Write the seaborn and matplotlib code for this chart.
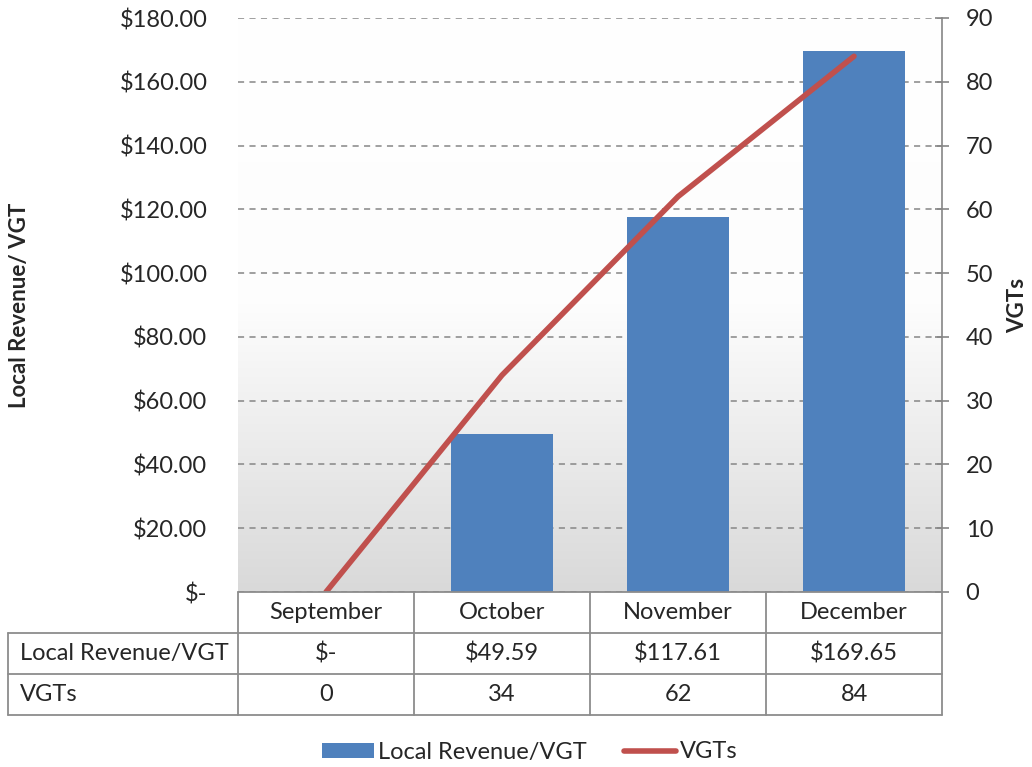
import numpy as np
import pandas as pd
import matplotlib
matplotlib.use("Agg")
import matplotlib.pyplot as plt
from matplotlib.lines import Line2D
from matplotlib.patches import Patch
from matplotlib.colors import LinearSegmentedColormap
import seaborn as sns

# Données
months = ['September', 'October', 'November', 'December']
revenue_per_vgt = [0.0, 49.59, 117.61, 169.65]
vgts = [0, 34, 62, 84]
rev_ticks = [0, 20, 40, 60, 80, 100, 120, 140, 160, 180]
vgt_ticks = [0, 10, 20, 30, 40, 50, 60, 70, 80, 90]

BLUE = '#4F81BD'
RED = '#C0504D'
GRID = '#868686'

sns.set_theme(style='white')
plt.rcParams['font.family'] = ['Lato', 'DejaVu Sans']
FS = 17

W, H = 1032, 767
fig = plt.figure(figsize=(W / 100, H / 100), dpi=100)

def fx(px):
    return px / W

def fy(py):
    return 1 - py / H

left, right, top, bottom = 238, 942, 18, 592
ax = fig.add_axes([fx(left), fy(bottom), fx(right - left), (bottom - top) / H])

df = pd.DataFrame({'Month': months, 'Revenue': revenue_per_vgt, 'VGTs': vgts,
                   'pos': np.arange(len(months))})

# fond dégradé (blanc en haut, gris en bas)
grad = LinearSegmentedColormap.from_list('g', ['#FFFFFF', '#FDFDFD', '#D9D9D9'])
ax.imshow(np.linspace(0, 1, 256).reshape(-1, 1), cmap=grad, aspect='auto',
          extent=[0, 1, 0, 1], transform=ax.transAxes, zorder=0)

sns.barplot(data=df, x='Month', y='Revenue', color=BLUE, saturation=1,
            width=0.575, linewidth=0, ax=ax, zorder=3)
ax.set_xlim(-0.5, 3.5)
ax.set_ylim(0, 180)
ax.set_yticks(rev_ticks)
ax.set_yticklabels(['$-' if t == 0 else f'${t:.2f}' for t in rev_ticks], fontsize=FS)
ax.tick_params(axis='y', length=0, pad=22)
ax.set_xticks([])
ax.set_xlabel('')
ax.set_ylabel('')
ax.yaxis.grid(True, color=GRID, linestyle=(0, (4, 3.5)), linewidth=1.1, zorder=1)
ax.set_axisbelow(True)
for s in ax.spines.values():
    s.set_visible(False)

ax2 = ax.twinx()
sns.lineplot(data=df, x='pos', y='VGTs', color=RED, linewidth=4, ax=ax2,
             solid_capstyle='round', zorder=4)
ax2.set_xlim(-0.5, 3.5)
ax2.set_ylim(0, 90)
ax2.set_yticks(vgt_ticks)
ax2.set_yticklabels([str(t) for t in vgt_ticks], fontsize=FS)
ax2.tick_params(axis='y', direction='inout', length=10, width=1.2, color=GRID, pad=12)
ax2.set_ylabel('')
ax2.set_xlabel('')
for k, s in ax2.spines.items():
    s.set_visible(k == 'right')
ax2.spines['right'].set_color(GRID)
ax2.spines['right'].set_linewidth(1.2)

# titres des axes
fig.text(fx(20), fy((top + bottom) / 2), 'Local Revenue/ VGT', rotation=90,
         ha='center', va='center', fontsize=FS - 1, fontweight='bold')
fig.text(fx(1018), fy((top + bottom) / 2), 'VGTs', rotation=90,
         ha='center', va='center', fontsize=FS - 1, fontweight='bold')

# tableau de données
cols = [238, 414, 590, 766, 942]
rows = [592, 633, 674, 715]
lc = dict(color='#8C8C8C', linewidth=1.3, transform=fig.transFigure)

def hline(x0, x1, y):
    fig.add_artist(Line2D([fx(x0), fx(x1)], [fy(y), fy(y)], **lc))

def vline(x, y0, y1):
    fig.add_artist(Line2D([fx(x), fx(x)], [fy(y0), fy(y1)], **lc))

hline(238, 942, 592)
for y in rows[1:]:
    hline(8, 942, y)
for x in cols:
    vline(x, 592, 715)
vline(8, 633, 715)

row_labels = ['Local Revenue/VGT', 'VGTs']
row_values = [['$-' if v == 0 else f'${v:.2f}' for v in revenue_per_vgt],
              [str(v) for v in vgts]]
for i, m in enumerate(months):
    cx = (cols[i] + cols[i + 1]) / 2
    fig.text(fx(cx), fy((rows[0] + rows[1]) / 2), m, ha='center', va='center', fontsize=FS)
    for r in range(2):
        cy = (rows[r + 1] + rows[r + 2]) / 2
        fig.text(fx(cx), fy(cy), row_values[r][i], ha='center', va='center', fontsize=FS)
for r, lab in enumerate(row_labels):
    cy = (rows[r + 1] + rows[r + 2]) / 2
    fig.text(fx(20), fy(cy), lab, ha='left', va='center', fontsize=FS)

# légende
handles = [Patch(facecolor=BLUE, edgecolor='none', label='Local Revenue/VGT'),
           Line2D([0], [0], color=RED, linewidth=4, solid_capstyle='round', label='VGTs')]
fig.legend(handles=handles, loc='center', bbox_to_anchor=(fx(530), fy(752)), ncol=2,
           frameon=False, fontsize=FS, handlelength=2.2, handleheight=0.6,
           handletextpad=0.15, columnspacing=1.6)

fig.savefig('out.png', dpi=100)
